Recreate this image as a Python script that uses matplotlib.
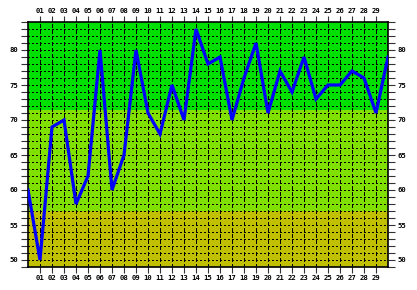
import matplotlib
matplotlib.use("Agg")
import matplotlib.pyplot as plt
from matplotlib.ticker import MultipleLocator, FixedLocator

# data
x_vals = list(range(0, 31))
y_vals = [60, 50, 69, 70, 58, 62, 80, 60, 65, 80,
          71, 68, 75, 70, 83, 78, 79, 70, 76, 81,
          71, 77, 74, 79, 73, 75, 75, 77, 76, 71, 79]
x_ticks = list(range(1, 30))
x_labels = ["%02d" % i for i in x_ticks]
y_major = [50, 55, 60, 65, 70, 75, 80]

# background bands (lower, upper, colour)
bands = [(49, 57, "#c0c000"), (57, 71.5, "#80e000"), (71.5, 84, "#00e000")]

fig = plt.figure(figsize=(4.17, 2.90), dpi=100)
ax = fig.add_axes([28 / 417, 1 - 267 / 290, 360 / 417, 245 / 290])

for lo, hi, col in bands:
    ax.axhspan(lo, hi, color=col, zorder=0, lw=0)

ax.set_xlim(0, 30)
ax.set_ylim(49, 84)

# grid: dashed verticals, dotted horizontals
for xv in x_ticks:
    ax.axvline(xv, color="black", lw=0.75, ls=(0, (3.5, 2.5)), zorder=1,
               antialiased=False)
for yv in range(50, 84):
    ax.axhline(yv, color="black", lw=0.75, ls=(0, (1.3, 2.5)), zorder=1,
               antialiased=False)

ax.plot(x_vals, y_vals, color="#0000ff", lw=2.3, zorder=3,
        solid_joinstyle="miter")

font = dict(family="DejaVu Sans Mono", size=5.2, weight="bold")

ax.xaxis.set_major_locator(FixedLocator(x_ticks))
ax.set_xticklabels(x_labels, fontdict=font)
ax.tick_params(axis="x", which="both", direction="out", length=4, width=0.8,
               top=True, bottom=True, labeltop=True, labelbottom=True,
               pad=2, color="#333333")

ax.yaxis.set_major_locator(FixedLocator(y_major))
ax.yaxis.set_minor_locator(MultipleLocator(1))
ax.set_yticklabels([str(v) for v in y_major], fontdict=font)
ax.tick_params(axis="y", which="both", direction="out", length=5, width=0.8,
               left=True, right=True, labelleft=True, labelright=True,
               pad=2, color="#333333")

for s in ax.spines.values():
    s.set_color("black")
    s.set_linewidth(1.2)

fig.savefig("out.png", dpi=100, facecolor="white")
